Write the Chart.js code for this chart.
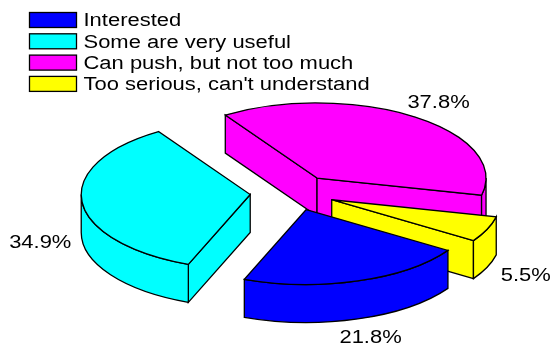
<!DOCTYPE html>
<html>
<head>
<meta charset="utf-8">
<style>
  html, body { margin: 0; padding: 0; background: #fff; }
</style>
<script src="https://cdn.jsdelivr.net/npm/chart.js@4"></script>
</head>
<body>
<canvas id="chart" width="553" height="346"></canvas>
<script>
const categories = ["Interested", "Some are very useful", "Can push, but not too much", "Too serious, can't understand"];
const shares = [21.8, 34.9, 37.8, 5.5];
const sliceColors = ["#0000ff", "#00ffff", "#ff00ff", "#ffff00"];
const explode = [40, 44, 40, 41];

// look of the fake 3D pie
const squash = 0.444;
const depth = 38;
const pieCenter = { x: 294, y: 192.6 };
const labelGap = 42;
const labelDrop = 1.5;
const strokeWidth = 1.3;

// the text in the picture is stretched sideways
const fontSize = 18;
const textStretch = 1.22;
const textFont = fontSize + "px 'Liberation Sans'";

const legendBox = { left: 29.5, top: 12.5, width: 47, height: 15, rowStep: 21.3, textLeft: 83.5 };

function stretchedText(ctx, text, x, y, align) {
  ctx.save();
  ctx.translate(x, y);
  ctx.scale(textStretch, 1);
  ctx.textAlign = align;
  ctx.textBaseline = "middle";
  ctx.fillText(text, 0, 0);
  ctx.restore();
}

const pie3d = {
  id: "pie3d",
  beforeDatasetDraw(chart, args) {
    const ctx = chart.ctx;
    const arcs = args.meta.data;

    // back slices first so the front ones cover them
    const order = arcs.map((arc, i) => i).sort((a, b) => {
      const midA = (arcs[a].startAngle + arcs[a].endAngle) / 2;
      const midB = (arcs[b].startAngle + arcs[b].endAngle) / 2;
      return Math.sin(midA) - Math.sin(midB);
    });

    ctx.save();
    ctx.lineWidth = strokeWidth;
    ctx.strokeStyle = "#000";
    order.forEach((i) => {
      const arc = arcs[i];
      const start = arc.startAngle;
      const end = arc.endAngle;
      const mid = (start + end) / 2;
      const off = arc.options.offset;
      const r = arc.outerRadius;
      const x = pieCenter.x + Math.cos(mid) * off;
      const y = pieCenter.y + Math.sin(mid) * off * squash;
      ctx.fillStyle = arc.options.backgroundColor;

      const paint = () => { ctx.fill(); ctx.stroke(); };

      const face = (angle) => {
        const px = x + Math.cos(angle) * r;
        const py = y + Math.sin(angle) * r * squash;
        ctx.beginPath();
        ctx.moveTo(x, y);
        ctx.lineTo(px, py);
        ctx.lineTo(px, py + depth);
        ctx.lineTo(x, y + depth);
        ctx.closePath();
        paint();
      };

      // straight cut sides, only when they look towards the viewer
      if (Math.cos(start) < 0) face(start);
      if (Math.cos(end) > 0) face(end);

      // curved outer wall, lower half of the ellipse only
      for (let k = 0; k < 3; k++) {
        const a0 = Math.max(start, k * 2 * Math.PI);
        const a1 = Math.min(end, k * 2 * Math.PI + Math.PI);
        if (a1 > a0) {
          ctx.beginPath();
          ctx.ellipse(x, y, r, r * squash, 0, a0, a1);
          ctx.ellipse(x, y + depth, r, r * squash, 0, a1, a0, true);
          ctx.closePath();
          paint();
        }
      }

      // top
      ctx.beginPath();
      ctx.moveTo(x, y);
      ctx.ellipse(x, y, r, r * squash, 0, start, end);
      ctx.closePath();
      paint();
    });

    // percent labels outside the slices
    ctx.fillStyle = "#000";
    ctx.font = textFont;
    arcs.forEach((arc, i) => {
      const mid = (arc.startAngle + arc.endAngle) / 2;
      const dist = arc.outerRadius + arc.options.offset + labelGap;
      const lx = pieCenter.x + Math.cos(mid) * dist;
      let ly = pieCenter.y + Math.sin(mid) * dist * squash + labelDrop;
      if (Math.sin(mid) > 0) ly += depth;
      stretchedText(ctx, shares[i].toFixed(1) + "%", lx, ly, "center");
    });
    ctx.restore();
    return false;
  },
  afterDraw(chart) {
    // legend by hand, the built in one cannot stretch its text
    const ctx = chart.ctx;
    ctx.save();
    ctx.font = textFont;
    ctx.lineWidth = strokeWidth;
    ctx.strokeStyle = "#000";
    categories.forEach((name, i) => {
      const top = legendBox.top + i * legendBox.rowStep;
      ctx.fillStyle = sliceColors[i];
      ctx.fillRect(legendBox.left, top, legendBox.width, legendBox.height);
      ctx.strokeRect(legendBox.left, top, legendBox.width, legendBox.height);
      ctx.fillStyle = "#000";
      stretchedText(ctx, name, legendBox.textLeft, top + legendBox.height / 2 + 1.5, "left");
    });
    ctx.restore();
  },
};

new Chart(document.getElementById("chart"), {
  type: "pie",
  data: {
    labels: categories,
    datasets: [
      {
        data: shares,
        backgroundColor: sliceColors,
        borderColor: "#000",
        borderWidth: 1,
        offset: explode,
        radius: 169,
        rotation: 123,
        clip: false,
      },
    ],
  },
  options: {
    responsive: false,
    animation: false,
    plugins: {
      tooltip: { enabled: false },
      legend: { display: false },
    },
  },
  plugins: [pie3d],
});
</script>
</body>
</html>
